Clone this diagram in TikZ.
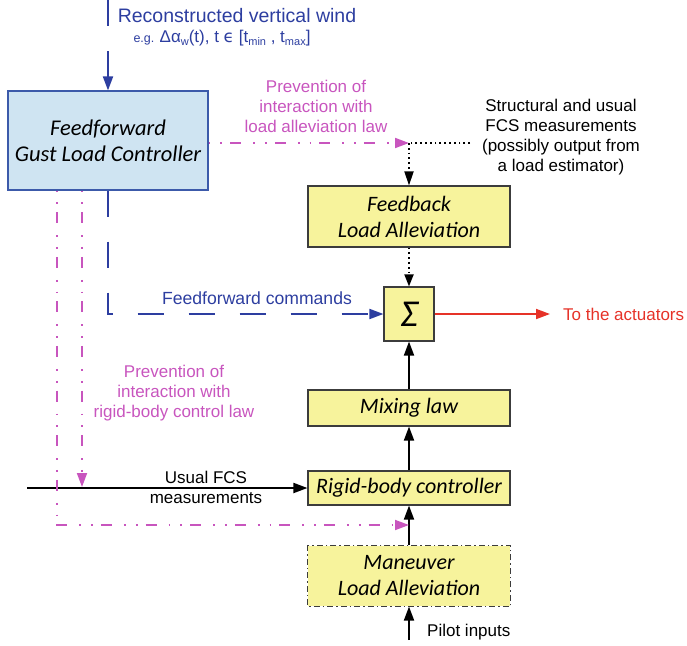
\documentclass[tikz,border=0pt]{standalone}
\usepackage{fontspec}
\setmainfont{Liberation Sans}
\newfontfamily\boxfont{Carlito}
\newfontfamily\dejavu{DejaVu Sans}
\usetikzlibrary{arrows.meta}
\definecolor{wblue}{RGB}{45,62,160}
\definecolor{mag}{RGB}{200,85,190}
\definecolor{ylw}{RGB}{247,243,156}
\definecolor{lblue}{RGB}{207,228,242}
\definecolor{bborder}{RGB}{60,90,170}
\definecolor{actred}{RGB}{230,50,40}
\definecolor{dgray}{RGB}{60,60,60}
\newcommand{\lbl}{\fontsize{17}{20}\selectfont}
\newcommand{\bxf}{\boxfont\itshape\fontsize{22}{25}\selectfont}
\newcommand{\subs}[1]{\raisebox{-0.35ex}{\fontsize{11}{11}\selectfont #1}}
\tikzset{
  tip/.style={-{Triangle[length=14pt,width=10pt]}},
  blueline/.style={draw=wblue,line width=1.8pt,dash pattern=on 26pt off 25pt},
  magline/.style={draw=mag,line width=1.8pt,dash pattern=on 1.8pt off 10pt on 1.8pt off 8pt on 11pt off 12pt},
  blackarr/.style={draw=black,line width=1.8pt,tip},
  dotline/.style={draw=black,line width=1.8pt,dash pattern=on 1.8pt off 3pt},
  ybox/.style={draw=dgray,line width=1.1pt,fill=ylw,inner sep=0pt,minimum width=202pt,align=center,font=\bxf},
  txt/.style={align=center,inner sep=0pt,font=\lbl},
}
\begin{document}
\begin{tikzpicture}[x=1pt,y=-1pt]
\useasboundingbox (0,0) rectangle (687,645);
% nodes
\node[draw=bborder,line width=1.1pt,fill=lblue,inner sep=0pt,minimum width=200pt,minimum height=99pt,align=center,font=\boxfont\itshape\fontsize{22.5}{25}\selectfont] (ff) at (108,140.5) {Feedforward\\[1pt]Gust Load Controller};
\node[ybox,minimum height=61pt] (fb) at (409,216.5) {Feedback\\[1pt]Load Alleviation};
\node[ybox,minimum width=50pt,minimum height=54pt] (sig) at (409,314) {\boxfont\fontsize{38}{38}\selectfont Σ};
\node[ybox,minimum height=36pt] (mix) at (409,408) {Mixing law};
\node[ybox,minimum height=34pt] (rig) at (409,488) {Rigid-body controller};
\node[ybox,draw=none,minimum height=60pt] (man) at (409,576) {Maneuver\\[1pt]Load Alleviation};
\draw[dgray,line width=1.1pt,dash pattern=on 6pt off 3pt on 1.5pt off 3pt] (man.north west) rectangle (man.south east);
% coordinates
\coordinate (w0) at (108,0);
\coordinate (j1) at (409,143);
\coordinate (s1) at (470,143);
\coordinate (act) at (550,314);
\coordinate (u0) at (27,488);
\coordinate (m1) at (82,487);
\coordinate (m2) at (57,525);
\coordinate (m3) at (409,525);
\coordinate (p0) at (409,640);
% labels
\node[txt,text=wblue,font=\fontsize{19.5}{22}\selectfont] (t1) at (237,16) {Reconstructed vertical wind};
\node[txt,text=wblue] (t2) at (222,38) {{\fontsize{12.5}{14}\selectfont e.g.}\hspace{-1pt} Δα\subs{w}(t), t {\dejavu ϵ} [t\subs{min} , t\subs{max}]};
\node[txt,text=mag] (t3) at (316,106) {Prevention of\\interaction with\\load alleviation law};
\node[txt] (t4) at (561,137) {Structural and usual\\FCS measurements\\(possibly output from\\a load estimator)};
\node[txt,text=wblue,font=\fontsize{17.6}{20}\selectfont] (t5) at (257,298) {Feedforward commands};
\node[txt,text=actred,anchor=west] (t6) at (563,314) {To the actuators};
\node[txt,text=mag] (t7) at (174,393) {Prevention of\\interaction with\\rigid-body control law};
\node[txt] (t8) at (206,487) {Usual FCS\\measurements};
\node[txt,anchor=west] (t9) at (427,632) {Pilot inputs};
% connectors
\draw[blueline,tip] (w0) -- (ff.north);
\draw[blueline,tip] (ff.south) |- (sig.west);
\draw[magline,tip] (ff.east |- j1) -- (j1);
\draw[dotline] (s1) -- (j1);
\draw[dotline,-{Triangle[length=14pt,width=9pt]}] (j1) -- (fb.north);
\draw[dotline,-{Triangle[length=12pt,width=9pt]}] (fb.south) -- (sig.north);
\draw[draw=actred,line width=1.8pt,tip] (sig.east) -- (act);
\draw[blackarr] (mix.north) -- (sig.south);
\draw[blackarr] (rig.north) -- (mix.south);
\draw[blackarr] (man.north) -- (rig.south);
\draw[blackarr] (p0) -- (man.south);
\draw[blackarr] (u0) -- (rig.west);
\draw[magline,tip] (ff.south -| m1) -- (m1);
\draw[magline,tip] (ff.south -| m2) -- (m2) -- (m3);
\end{tikzpicture}
\end{document}
